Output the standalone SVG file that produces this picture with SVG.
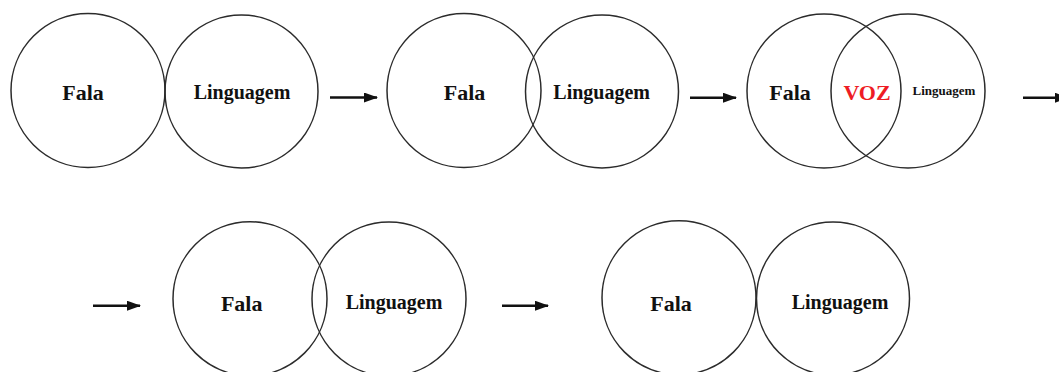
<svg xmlns="http://www.w3.org/2000/svg" width="1059" height="372" viewBox="0 0 1059 372">
  <style>
    .ring { fill: none; stroke: #2b2b2b; stroke-width: 1.5; }
    .lbl { font-family: "Liberation Serif", "Times New Roman", serif; font-weight: bold; fill: #111; text-anchor: middle; }
    .big { font-size: 22px; }
    .mid { font-size: 20px; }
    .small { font-size: 13px; }
    .voz { font-size: 22px; fill: #ee1c25; }
    .arrow { stroke: #111; stroke-width: 2.6; fill: none; }
  </style>
  <defs>
    <marker id="head" viewBox="0 0 14 10" refX="13" refY="5" markerWidth="14" markerHeight="10" markerUnits="userSpaceOnUse" orient="auto">
      <path d="M0,0 L14,5 L0,10 Z" fill="#111"/>
    </marker>
  </defs>
  <rect width="1059" height="372" fill="#fff"/>

  <!-- stage 1: circles touching -->
  <g id="stage1">
    <circle class="ring" cx="88" cy="90.5" r="77"/>
    <circle class="ring" cx="241.5" cy="91.5" r="76.5"/>
    <text class="lbl big" x="83" y="100">Fala</text>
    <text class="lbl mid" x="242" y="99">Linguagem</text>
  </g>

  <!-- stage 2: slight overlap -->
  <g id="stage2">
    <circle class="ring" cx="464" cy="90.5" r="77"/>
    <circle class="ring" cx="602" cy="91.5" r="76.5"/>
    <text class="lbl big" x="464.5" y="100">Fala</text>
    <text class="lbl mid" x="601.7" y="99">Linguagem</text>
  </g>

  <!-- stage 3: large overlap, voice in the middle -->
  <g id="stage3">
    <circle class="ring" cx="824" cy="91" r="77"/>
    <circle class="ring" cx="908" cy="91" r="77"/>
    <text class="lbl big" x="790" y="100">Fala</text>
    <text class="lbl voz" x="867" y="100">VOZ</text>
    <text class="lbl small" x="944" y="95">Linguagem</text>
  </g>

  <!-- stage 4: overlap shrinking -->
  <g id="stage4">
    <circle class="ring" cx="250" cy="298.7" r="77"/>
    <circle class="ring" cx="389" cy="299" r="77"/>
    <text class="lbl big" x="241.7" y="311">Fala</text>
    <text class="lbl mid" x="394" y="309">Linguagem</text>
  </g>

  <!-- stage 5: circles touching again -->
  <g id="stage5">
    <circle class="ring" cx="679" cy="297.7" r="77"/>
    <circle class="ring" cx="833" cy="298.5" r="76.5"/>
    <text class="lbl big" x="671" y="311">Fala</text>
    <text class="lbl mid" x="840" y="309">Linguagem</text>
  </g>

  <!-- transitions -->
  <g id="connectors">
    <line class="arrow" x1="330" y1="97.5" x2="377" y2="97.5" marker-end="url(#head)"/>
    <line class="arrow" x1="690" y1="97.7" x2="736" y2="97.7" marker-end="url(#head)"/>
    <line class="arrow" x1="1023" y1="97.7" x2="1068" y2="97.7" marker-end="url(#head)"/>
    <line class="arrow" x1="93" y1="305.7" x2="140" y2="305.7" marker-end="url(#head)"/>
    <line class="arrow" x1="502" y1="305.7" x2="548" y2="305.7" marker-end="url(#head)"/>
  </g>
</svg>
